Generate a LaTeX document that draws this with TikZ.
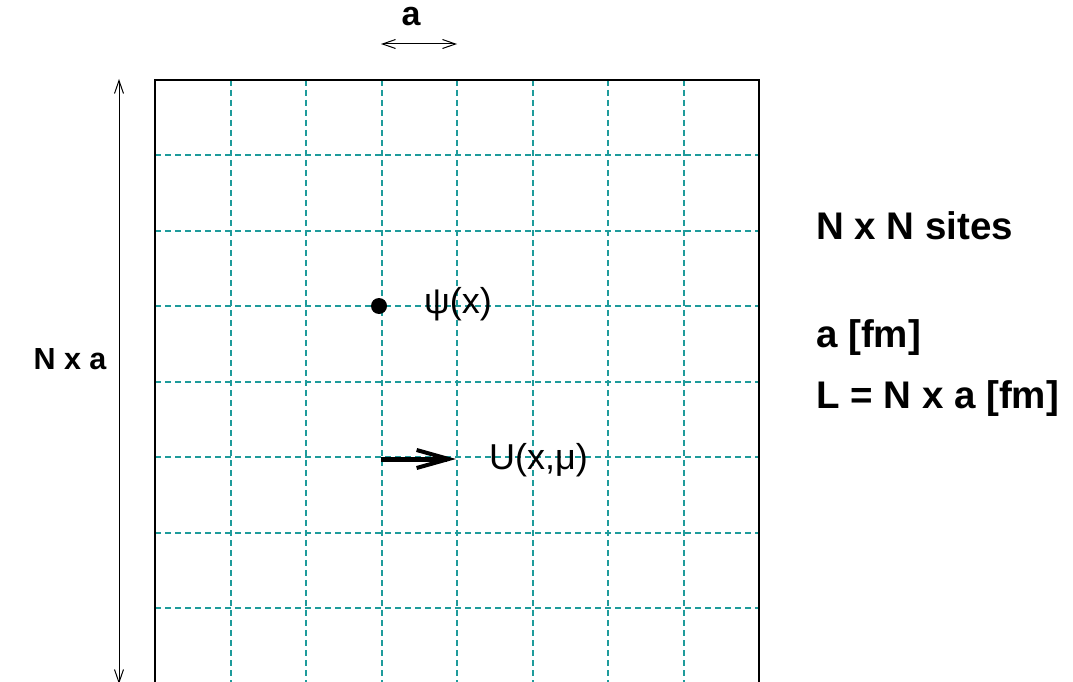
\documentclass[tikz,border=0pt]{standalone}
\usepackage{fontspec}
\setmainfont{Liberation Sans}
\usetikzlibrary{arrows.meta}
\definecolor{gridcol}{RGB}{30,155,155}
\begin{document}
\begin{tikzpicture}[x=1pt,y=-1pt,
  gridline/.style={draw=gridcol, line width=1.1pt, dash pattern=on 6pt off 4pt},
  frame/.style={draw=black, line width=1.5pt},
  dim/.style={draw=black, line width=1pt, {Straight Barb[length=13pt,width=9pt]}-{Straight Barb[length=13pt,width=9pt]}},
  rightlbl/.style={font=\fontsize{38.5}{42}\selectfont\bfseries, inner sep=0pt, anchor=west},
  leftlbl/.style={font=\fontsize{30.5}{33}\selectfont\bfseries, inner sep=0pt},
  toplbl/.style={font=\fontsize{34}{36}\selectfont\bfseries, inner sep=0pt},
  reglbl/.style={font=\fontsize{36}{40}\selectfont, inner sep=0pt, anchor=west}]
\useasboundingbox (0,0) rectangle (1073,682);
% grid
\foreach \p in {231,306,382,457,533,608,684} {
  \draw[gridline] (\p,80) -- (\p,684);
}
\foreach \p in {155,231,306,382,457,533,608} {
  \draw[gridline] (155,\p) -- (759,\p);
}
\draw[frame] (155,684) -- (155,80) -- (759,80) -- (759,684);
% dimension arrows
\coordinate (vt) at (119,79);
\coordinate (vb) at (119,684);
\draw[dim] (vt) -- (vb);
\coordinate (hl) at (381,44);
\coordinate (hr) at (457,44);
\draw[dim] (hl) -- (hr);
\node[toplbl] (la) at (411,17) {a};
\node[leftlbl] (lNa) at (70,359) {N x a};
% site
\node[circle, fill=black, inner sep=0pt, minimum size=16pt] (dot) at (379,306) {};
\node[reglbl] (psi) at (424,304) {ψ(x)};
% link
\coordinate (ls) at (381,459);
\coordinate (le) at (456,459);
\draw[line width=5pt, -{Straight Barb[length=32pt,width=18pt,line width=4pt]}] (ls) -- (le);
\node[reglbl] (U) at (489,460) {U(x,μ)};
% right text
\node[rightlbl] (t1) at (816,226) {N x N sites};
\node[rightlbl] (t2) at (816,338) {a [fm]};
\node[rightlbl] (t3) at (816,399) {L = N x a [fm]};
\end{tikzpicture}
\end{document}
